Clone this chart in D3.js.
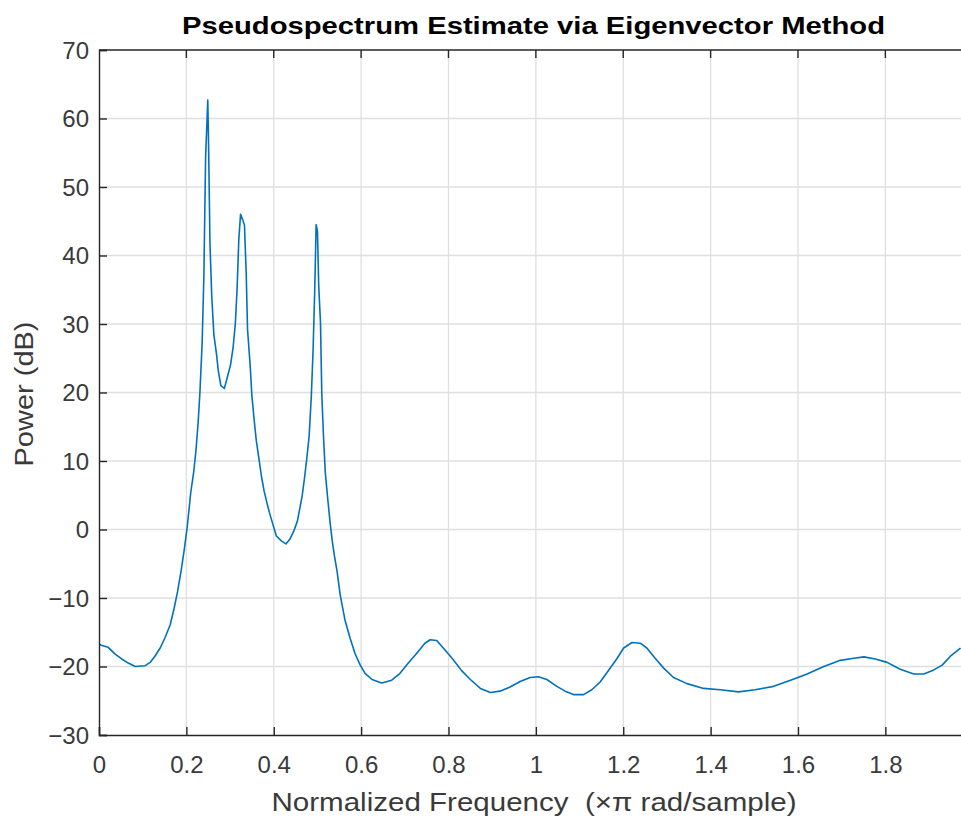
<!DOCTYPE html>
<html>
<head>
<meta charset="utf-8">
<script src="https://cdn.jsdelivr.net/npm/d3@7"></script>
<style>
  html, body { margin: 0; padding: 0; background: #ffffff; }
  svg { display: block; }
  text { font-family: "Liberation Sans", Arial, Helvetica, sans-serif; }
</style>
</head>
<body>
<svg id="chart" width="961" height="819"></svg>
<script>
// ---- data ----
const title = "Pseudospectrum Estimate via Eigenvector Method";
const xLabel = "Normalized Frequency  (\u00D7\u03C0 rad/sample)";
const yLabel = "Power (dB)";
const xTicks = [0, 0.2, 0.4, 0.6, 0.8, 1, 1.2, 1.4, 1.6, 1.8];
const yTicks = [-30, -20, -10, 0, 10, 20, 30, 40, 50, 60, 70];

const freq = [
  0.000, 0.005, 0.021, 0.037, 0.052, 0.067, 0.083, 0.105, 0.117, 0.128,
  0.140, 0.151, 0.163, 0.172, 0.180, 0.188, 0.195, 0.202, 0.210, 0.217,
  0.222, 0.227, 0.231, 0.236, 0.240, 0.244, 0.249, 0.251, 0.254, 0.258,
  0.263, 0.269, 0.273, 0.279, 0.287, 0.294, 0.301, 0.307, 0.312, 0.316,
  0.320, 0.324, 0.329, 0.333, 0.337, 0.340, 0.346, 0.350, 0.355, 0.360,
  0.366, 0.372, 0.378, 0.384, 0.390, 0.398, 0.406, 0.418, 0.428, 0.437,
  0.446, 0.454, 0.460, 0.465, 0.470, 0.475, 0.481, 0.486, 0.490, 0.494,
  0.497, 0.500, 0.503, 0.507, 0.510, 0.514, 0.518, 0.524, 0.529, 0.534,
  0.539, 0.545, 0.552, 0.563, 0.575, 0.586, 0.598, 0.609, 0.625, 0.647,
  0.670, 0.689, 0.708, 0.727, 0.746, 0.758, 0.773, 0.792, 0.811, 0.830,
  0.850, 0.873, 0.896, 0.918, 0.941, 0.964, 0.987, 1.006, 1.025, 1.048,
  1.067, 1.086, 1.109, 1.128, 1.148, 1.167, 1.186, 1.201, 1.220, 1.239,
  1.254, 1.273, 1.292, 1.315, 1.346, 1.384, 1.422, 1.464, 1.502, 1.544,
  1.583, 1.621, 1.659, 1.697, 1.728, 1.751, 1.777, 1.804, 1.834, 1.865,
  1.888, 1.911, 1.930, 1.949, 1.972
];
const powerDb = [
  -16.7, -16.9, -17.2, -18.2, -18.9, -19.5, -20.0, -19.9, -19.4, -18.5,
  -17.3, -15.8, -13.9, -11.5, -9.0, -6.0, -3.0, 0.4, 5.4, 8.5,
  11.6, 15.7, 20.0, 27.1, 36.8, 54.3, 62.7, 55.4, 41.8, 34.2,
  28.4, 25.6, 23.2, 21.0, 20.6, 22.3, 24.0, 26.6, 30.0, 35.0,
  42.3, 46.0, 45.2, 44.4, 37.3, 29.2, 24.0, 19.5, 16.1, 13.0,
  10.4, 7.7, 5.6, 4.0, 2.5, 0.75, -0.95, -1.7, -2.1, -1.4,
  -0.2, 1.2, 3.2, 4.9, 7.3, 10.0, 13.6, 19.5, 26.1, 35.4,
  44.5, 43.6, 35.5, 30.2, 19.7, 13.4, 8.3, 4.2, 1.0, -1.7,
  -3.9, -6.1, -9.5, -13.2, -15.9, -18.1, -19.8, -21.0, -21.9, -22.4,
  -22.0, -21.0, -19.5, -18.1, -16.6, -16.1, -16.2, -17.6, -19.0, -20.6,
  -21.9, -23.2, -23.8, -23.6, -23.0, -22.2, -21.6, -21.5, -21.9, -22.9,
  -23.6, -24.1, -24.1, -23.4, -22.2, -20.5, -18.8, -17.3, -16.5, -16.6,
  -17.3, -18.8, -20.2, -21.6, -22.5, -23.2, -23.4, -23.7, -23.4, -22.9,
  -22.0, -21.1, -20.0, -19.1, -18.8, -18.6, -18.9, -19.4, -20.4, -21.1,
  -21.1, -20.5, -19.8, -18.5, -17.3
];

// ---- layout ----
const svg = d3.select("#chart");
const plot = { left: 99, top: 50, right: 964, bottom: 735 };
const axisColor = "#262626";
const textColor = "#3a3a3a";
const gridColor = "#dfdfdf";
const lineColor = "#0072BD";

const x = d3.scaleLinear().domain([0, 1.98]).range([plot.left, plot.right]);
const y = d3.scaleLinear().domain([-30, 70]).range([plot.bottom, plot.top]);

const clipId = "plotClip";
svg.append("defs").append("clipPath").attr("id", clipId)
  .append("rect")
  .attr("x", plot.left).attr("y", plot.top)
  .attr("width", plot.right - plot.left).attr("height", plot.bottom - plot.top);

// grid
const grid = svg.append("g");
grid.selectAll("line.vg").data(xTicks.filter(d => d > 0)).enter().append("line")
  .attr("x1", d => x(d)).attr("x2", d => x(d))
  .attr("y1", plot.top).attr("y2", plot.bottom)
  .attr("stroke", gridColor).attr("stroke-width", 1.3);
grid.selectAll("line.hg").data(yTicks.filter(d => d > -30 && d < 70)).enter().append("line")
  .attr("x1", plot.left).attr("x2", plot.right)
  .attr("y1", d => y(d)).attr("y2", d => y(d))
  .attr("stroke", gridColor).attr("stroke-width", 1.3);

// data line
const line = d3.line().x((d, i) => x(freq[i])).y(d => y(d));
svg.append("path")
  .datum(powerDb)
  .attr("clip-path", `url(#${clipId})`)
  .attr("d", line)
  .attr("fill", "none")
  .attr("stroke", lineColor)
  .attr("stroke-width", 1.6)
  .attr("stroke-linejoin", "round");

// axes (MATLAB style, ticks inward, box top)
const fmtX = d => (d === 0 ? "0" : d3.format("~g")(d));
const xAxis = d3.axisBottom(x).tickValues(xTicks).tickSize(-8).tickPadding(18).tickFormat(fmtX);
const yAxis = d3.axisLeft(y).tickValues(yTicks).tickSize(-8).tickPadding(18).tickFormat(d3.format("d"));

const gx = svg.append("g").attr("transform", `translate(0,${plot.bottom})`).call(xAxis);
const gy = svg.append("g").attr("transform", `translate(${plot.left},0)`).call(yAxis);
[gx, gy].forEach(g => {
  g.select(".domain").attr("stroke", axisColor).attr("stroke-width", 1.4);
  g.selectAll(".tick line").attr("stroke", axisColor).attr("stroke-width", 1.4);
  g.selectAll(".tick text").attr("fill", textColor)
    .style("font-family", '"Liberation Sans", Arial, sans-serif')
    .style("font-size", "24px");
});
gx.selectAll(".tick text").attr("dy", "0.71em").attr("y", 21);
gy.selectAll(".tick text").attr("x", -10).attr("dy", "0.35em");

// top box line
svg.append("line")
  .attr("x1", plot.left).attr("x2", plot.right)
  .attr("y1", plot.top).attr("y2", plot.top)
  .attr("stroke", axisColor).attr("stroke-width", 1.4);
// top ticks
svg.append("g").selectAll("line").data(xTicks.filter(d => d > 0)).enter().append("line")
  .attr("x1", d => x(d)).attr("x2", d => x(d))
  .attr("y1", plot.top).attr("y2", plot.top + 8)
  .attr("stroke", axisColor).attr("stroke-width", 1.4);

// title
svg.append("text")
  .attr("x", 533.5).attr("y", 34)
  .attr("text-anchor", "middle")
  .attr("fill", "#000")
  .style("font-weight", "bold")
  .style("font-size", "24px")
  .attr("textLength", 703).attr("lengthAdjust", "spacingAndGlyphs")
  .text(title);

// x label
svg.append("text")
  .attr("x", 534).attr("y", 811)
  .attr("text-anchor", "middle")
  .attr("fill", textColor)
  .style("font-size", "25px")
  .style("white-space", "pre")
  .attr("xml:space", "preserve")
  .attr("textLength", 525).attr("lengthAdjust", "spacingAndGlyphs")
  .text(xLabel);

// y label
svg.append("text")
  .attr("transform", `translate(33,394) rotate(-90)`)
  .attr("text-anchor", "middle")
  .attr("fill", textColor)
  .style("font-size", "25px")
  .attr("textLength", 145).attr("lengthAdjust", "spacingAndGlyphs")
  .text(yLabel);
</script>
</body>
</html>
